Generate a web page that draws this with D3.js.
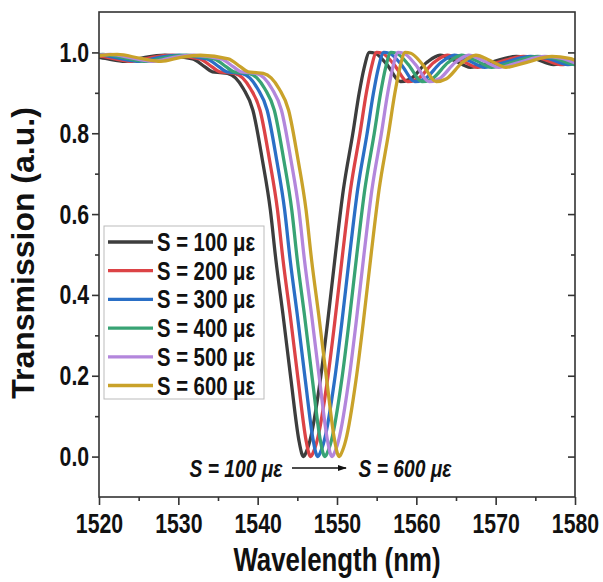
<!DOCTYPE html>
<html><head><meta charset="utf-8">
<script src="https://cdn.jsdelivr.net/npm/d3@7/dist/d3.min.js"></script>
<style>body{margin:0;background:#fff}</style>
</head><body>
<svg id="chart" width="603" height="582"></svg>
<script>
// Series (strain levels) and the dip centre wavelength read for each curve (nm)
const seriesLabels = ["S = 100 με","S = 200 με","S = 300 με","S = 400 με","S = 500 με","S = 600 με"];
const dipCentres  = [1545.8, 1546.7, 1547.6, 1548.5, 1549.4, 1550.3];
const colours     = ["#3d3d3d","#dc4346","#2a6fc6","#38a374","#b386dc","#c9a22a"];
// Shared transmission profile: offset from dip centre (nm) and transmission
const profileOffset = [-31,-28,-25,-22.5,-20,-17.5,-14,-12.5,-11.5,-10.5,-9.6,-8.6,-7.6,-6.4,-5.2,-4.2,-3.5,-2.6,-1.6,-0.6,-0.25,0,0.25,0.8,2.1,3,4,5,6.2,7,7.6,8.3,9,10.5,12.2,13.5,15.5,17.2,19,21,23.5,26.8,29,31.5,34,36];
const profileT      = [0.99,0.995,0.985,0.978,0.988,0.993,0.984,0.965,0.952,0.95,0.948,0.937,0.91,0.857,0.733,0.61,0.486,0.35,0.19,0.04,0.008,0,0.008,0.04,0.19,0.33,0.5,0.66,0.8,0.9,0.96,1.0,0.998,0.97,0.928,0.935,0.975,0.993,0.98,0.963,0.975,0.99,0.985,0.97,0.98,0.99];
const xTicks = [1520,1530,1540,1550,1560,1570,1580];
const xMinor = [1525,1535,1545,1555,1565,1575];
const yTicks = [0.0,0.2,0.4,0.6,0.8,1.0];
const yMinor = [0.1,0.3,0.5,0.7,0.9];

const svg = d3.select("#chart");
const L=99,R=575,T=12,B=497;
const x = d3.scaleLinear().domain([1520,1580]).range([L,R]);
const y = d3.scaleLinear().domain([-0.1,1.1]).range([B,T]);
const font = "'Liberation Sans',Arial,sans-serif";

svg.append("defs").append("clipPath").attr("id","clip")
  .append("rect").attr("x",L).attr("y",T).attr("width",R-L).attr("height",B-T);

const line = d3.line().x(d=>x(d[0])).y(d=>y(d[1])).curve(d3.curveMonotoneX);
const g = svg.append("g").attr("clip-path","url(#clip)");
dipCentres.forEach((c,i)=>{
  const pts = profileOffset.map((o,k)=>[c+o, profileT[k]]);
  g.append("path").attr("d",line(pts)).attr("fill","none")
   .attr("stroke",colours[i]).attr("stroke-width",3.3).attr("stroke-linejoin","round");
});

// frame
svg.append("rect").attr("x",L).attr("y",T).attr("width",R-L).attr("height",B-T)
  .attr("fill","none").attr("stroke","#333").attr("stroke-width",1.6);

// axes
svg.append("g").attr("transform",`translate(0,${B})`)
  .call(d3.axisBottom(x).tickValues(xTicks).tickFormat(d3.format("d")).tickSize(8).tickPadding(8));
svg.append("g").attr("transform",`translate(0,${B})`)
  .call(d3.axisBottom(x).tickValues(xMinor).tickFormat("").tickSize(4));
svg.append("g").attr("transform",`translate(${L},0)`)
  .call(d3.axisLeft(y).tickValues(yTicks).tickFormat(d3.format(".1f")).tickSize(7).tickPadding(6));
svg.append("g").attr("transform",`translate(${L},0)`)
  .call(d3.axisLeft(y).tickValues(yMinor).tickFormat("").tickSize(4));
svg.append("g").attr("transform",`translate(${R},0)`)
  .call(d3.axisRight(y).tickValues(yTicks).tickFormat("").tickSize(-7));
svg.append("g").attr("transform",`translate(${R},0)`)
  .call(d3.axisRight(y).tickValues(yMinor).tickFormat("").tickSize(-4));
svg.selectAll(".domain").remove();
svg.selectAll(".tick line").attr("stroke","#333").attr("stroke-width",1.6);
svg.selectAll(".tick text").attr("font-family",font).attr("font-weight","bold")
  .attr("font-size",28).attr("fill","#111").attr("transform","scale(0.76,1)");

function ctext(cx, cy, str, size, sx, anchor, italic){
  const t = svg.append("g").attr("transform",`translate(${cx},${cy}) scale(${sx},1)`)
    .append("text").attr("text-anchor",anchor).attr("font-family",font).attr("font-weight","bold")
    .attr("font-size",size).attr("fill","#111").text(str);
  if(italic) t.attr("font-style","italic");
  return t;
}

// axis titles
ctext(337, 571, "Wavelength (nm)", 34, 0.76, "middle");
svg.append("text").attr("transform","translate(34,253) rotate(-90)").attr("text-anchor","middle")
  .attr("font-family",font).attr("font-weight","bold").attr("font-size",32).attr("fill","#111")
  .text("Transmission (a.u.)");

// legend
svg.append("rect").attr("x",104).attr("y",226).attr("width",160).attr("height",173)
  .attr("fill","#fff").attr("stroke","#bbb").attr("stroke-width",1);
seriesLabels.forEach((s,i)=>{
  const yy = 242 + i*28.7;
  svg.append("line").attr("x1",108).attr("x2",153).attr("y1",yy).attr("y2",yy)
    .attr("stroke",colours[i]).attr("stroke-width",3.3);
  ctext(157, yy+9, s, 26, 0.78, "start");
});

// annotation
svg.append("defs").append("marker").attr("id","arr").attr("viewBox","0 0 10 10")
  .attr("refX",9).attr("refY",5).attr("markerWidth",7).attr("markerHeight",7).attr("orient","auto")
  .append("path").attr("d","M0,1.5L10,5L0,8.5Z").attr("fill","#111");
ctext(236, 477, seriesLabels[0], 24, 0.8, "middle", true);
svg.append("line").attr("x1",292).attr("x2",346).attr("y1",468).attr("y2",468)
  .attr("stroke","#111").attr("stroke-width",1.3).attr("marker-end","url(#arr)");
ctext(405, 477, seriesLabels[5], 24, 0.8, "middle", true);
</script>
</body></html>
